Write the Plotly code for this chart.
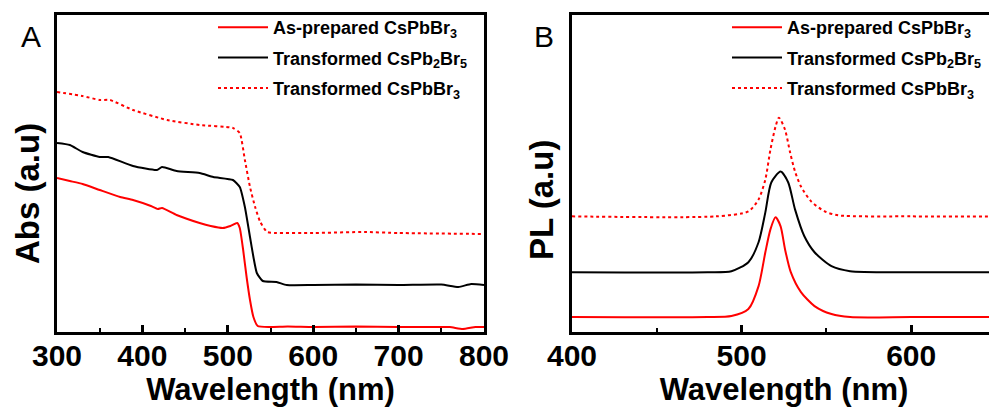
import plotly.graph_objects as go

# ---------------- Panel A: absorption (arbitrary units) ----------------
abs_asprep_x = [300, 315, 330, 350, 374, 389, 410, 418, 423, 440, 467, 480, 494, 503, 511, 514, 518, 522, 526, 530, 535, 549,
                570, 600, 650, 700, 740, 760, 775, 790, 800]
abs_asprep_y = [154, 151, 148, 142, 135, 132, 126, 123, 124, 117, 109, 106, 104, 106, 109, 104, 82, 55, 32, 15, 6, 5,
                5.5, 5, 5.5, 5, 5, 5, 3, 5, 5]

abs_cspb2br5_x = [300, 315, 330, 350, 360, 389, 417, 423, 440, 467, 483, 506, 514, 520, 526, 530, 534, 541,
                  557, 569, 600, 650, 700, 750, 770, 785, 800]
abs_cspb2br5_y = [189, 187, 180, 175, 175, 166, 162, 165, 161, 159, 155, 152, 145, 125, 95, 75, 59, 51,
                  50, 47, 47, 47.5, 47, 47.5, 45, 48, 47]

abs_transf_x = [300, 330, 350, 362, 389, 429, 467, 506, 514, 520, 526, 532, 538, 546, 557, 600, 660, 700, 800]
abs_transf_y = [240, 236, 232, 232, 222, 212, 207, 204, 199, 172, 145, 125, 110, 100, 99, 99, 100, 99, 98]

# ---------------- Panel B: photoluminescence (arbitrary units) ----------------
pl_asprep_x = [400, 480, 494, 504, 510, 514, 517, 520, 523, 525.6, 529, 535, 543, 553, 564, 600, 650]
pl_asprep_y = [15, 15, 16, 23, 46, 80, 103, 115, 106, 83, 60, 40, 26, 18, 15, 15, 15]

pl_cspb2br5_x = [400, 480, 494, 504, 510, 514, 517.5, 523, 527.5, 531.5, 537, 543, 553, 564, 600, 650]
pl_cspb2br5_y = [60, 60, 61, 70, 90, 120, 150, 161, 150, 123, 96, 80, 66, 61, 60, 60]

pl_transf_x = [400, 485, 504, 510, 514, 517, 520, 522, 525.6, 528.6, 531.5, 535, 541, 549, 557, 600, 650]
pl_transf_y = [116, 116, 121, 133, 153, 183, 206, 215, 203, 180, 161, 146, 131, 121, 117, 116, 116]

names = ["As-prepared CsPbBr<sub>3</sub>",
         "Transformed CsPb<sub>2</sub>Br<sub>5</sub>",
         "Transformed CsPbBr<sub>3</sub>"]
colors = ["#ff0000", "#000000", "#ff0000"]
dashes = ["solid", "solid", "dot"]

A_ticks = [300, 400, 500, 600, 700, 800]
B_ticks = [400, 500, 600]

fig = go.Figure()

for i, (x, y) in enumerate([(abs_asprep_x, abs_asprep_y), (abs_cspb2br5_x, abs_cspb2br5_y), (abs_transf_x, abs_transf_y)]):
    fig.add_trace(go.Scatter(x=x, y=y, mode="lines", name=names[i],
                             line=dict(color=colors[i], width=2, dash=dashes[i], shape="spline", smoothing=0.5),
                             xaxis="x", yaxis="y", legend="legend", legendgroup=f"a{i}"))

for i, (x, y) in enumerate([(pl_asprep_x, pl_asprep_y), (pl_cspb2br5_x, pl_cspb2br5_y), (pl_transf_x, pl_transf_y)]):
    fig.add_trace(go.Scatter(x=x, y=y, mode="lines", name=names[i],
                             line=dict(color=colors[i], width=2, dash=dashes[i], shape="spline", smoothing=0.7),
                             xaxis="x2", yaxis="y2", legend="legend2", legendgroup=f"b{i}"))

# page body has an 8px margin: figure is placed at (8, 8) in the window
OFF = 8
W, H = 997 - OFF, 407 - OFF


def px(v):
    return (v - OFF) / W


def py(v):
    return 1 - (v - OFF) / H


ydom = [py(332), py(15)]

FONT = "Arial, Liberation Sans"
axis_common = dict(showline=True, linewidth=3, linecolor="black", mirror=True,
                   ticks="inside", ticklen=7, tickwidth=3, tickcolor="black",
                   showgrid=False, zeroline=False, automargin=False, ticklabelstandoff=-5,
                   tickfont=dict(family=FONT, size=30, color="black", weight="bold"),
                   minor=dict(dtick=50, ticks="inside", ticklen=4, tickwidth=2, tickcolor="black"))
yaxis_common = dict(domain=ydom, showticklabels=False, automargin=False,
                    showline=True, linewidth=3, linecolor="black", mirror=True, ticks="",
                    showgrid=False, zeroline=False)
title_font = dict(family=FONT, size=31, color="black", weight="bold")
legend_font = dict(family=FONT, size=18, color="black", weight="bold")

fig.update_layout(
    width=W, height=H,
    margin=dict(l=0, r=0, t=0, b=0, autoexpand=False),
    paper_bgcolor="white", plot_bgcolor="white",
    xaxis=dict(domain=[px(57), px(484)], range=[300, 800], tickvals=A_ticks, anchor="y",
               title=dict(text="Wavelength (nm)", standoff=0, font=title_font), **axis_common),
    yaxis=dict(range=[0, 317], anchor="x", **yaxis_common),
    xaxis2=dict(domain=[px(572), px(996)], range=[400, 650], tickvals=B_ticks, anchor="y2",
                title=dict(text="Wavelength (nm)", standoff=0, font=title_font), **axis_common),
    yaxis2=dict(range=[0, 318], anchor="x2", **yaxis_common),
    legend=dict(x=px(213), y=py(9), xanchor="left", yanchor="top", bgcolor="rgba(0,0,0,0)",
                font=legend_font, tracegroupgap=4, itemwidth=50),
    legend2=dict(x=px(727), y=py(9), xanchor="left", yanchor="top", bgcolor="rgba(0,0,0,0)",
                 font=legend_font, tracegroupgap=4, itemwidth=50),
    showlegend=True,
)

fig.add_annotation(text="Abs (a.u)", x=px(27), y=py(194), xref="paper", yref="paper",
                   textangle=-90, showarrow=False, xanchor="center", yanchor="middle",
                   font=dict(family=FONT, size=33, color="black", weight="bold"))
fig.add_annotation(text="PL (a.u)", x=px(541), y=py(200), xref="paper", yref="paper",
                   textangle=-90, showarrow=False, xanchor="center", yanchor="middle",
                   font=dict(family=FONT, size=33, color="black", weight="bold"))
fig.add_annotation(text="A", x=px(31), y=py(36), xref="paper", yref="paper",
                   showarrow=False, xanchor="center", yanchor="middle",
                   font=dict(family=FONT, size=30, color="black"))
fig.add_annotation(text="B", x=px(544), y=py(36), xref="paper", yref="paper",
                   showarrow=False, xanchor="center", yanchor="middle",
                   font=dict(family=FONT, size=30, color="black"))

fig.write_html("out.html")
